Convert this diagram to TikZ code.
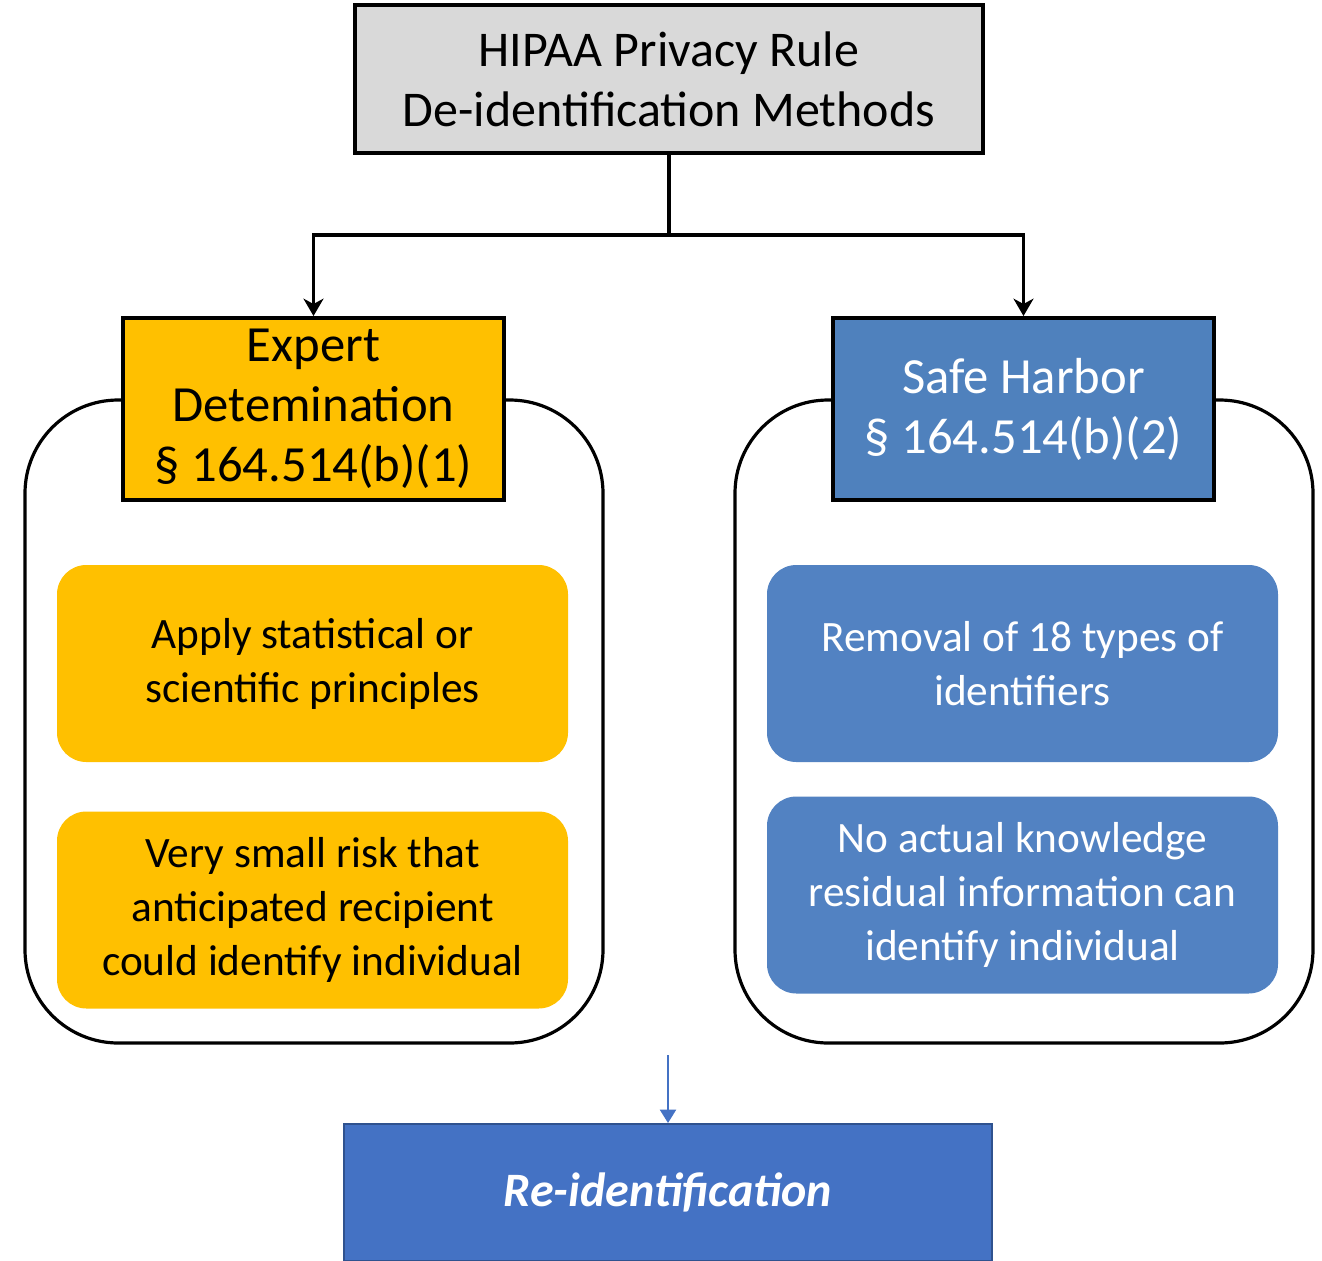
\documentclass[tikz,border=0pt]{standalone}
\usepackage{fontspec}
\setmainfont{Carlito}
\usetikzlibrary{arrows.meta,positioning}
\definecolor{ink}{HTML}{000000}
\definecolor{headgray}{HTML}{D9D9D9}
\definecolor{gold}{HTML}{FFC000}
\definecolor{steel}{HTML}{4F81BD}
\definecolor{steelfill}{HTML}{5282C2}
\definecolor{royal}{HTML}{4472C4}
\definecolor{royaldark}{HTML}{2F528F}
\tikzset{
  box/.style={draw=ink, line width=3pt, align=center, inner sep=0pt, font=\fontsize{38}{45}\selectfont},
  graybox/.style={box, fill=headgray, minimum width=471pt, minimum height=111pt, font=\fontsize{37.5}{45}\selectfont},
  goldbox/.style={box, fill=gold, minimum width=285.75pt, minimum height=136.5pt},
  bluebox/.style={box, fill=steel, text=white, minimum width=285.75pt, minimum height=136.5pt},
  frame/.style={draw=ink, line width=2.4pt, rounded corners=70pt, minimum width=433.5pt, minimum height=482.25pt, inner sep=0pt},
  goldpill/.style={fill=gold, rounded corners=22pt, minimum width=383.25pt, minimum height=147.75pt, align=center, inner sep=0pt, font=\fontsize{32.5}{40.5}\selectfont},
  bluepill/.style={goldpill, fill=steelfill, text=white},
  reidbox/.style={draw=royaldark, line width=1.5pt, fill=royal, text=white, minimum width=486pt, minimum height=102.75pt, font=\fontsize{36}{40}\selectfont\bfseries\itshape},
  arrow/.style={-{Stealth[length=13pt,width=15pt,inset=4pt]}, line width=2.8pt, draw=ink},
  bluearrow/.style={-{Triangle[length=10pt,width=12pt]}, line width=1.6pt, draw=royal}
}
\begin{document}
\begin{tikzpicture}[x=0.75pt, y=-0.75pt]
\useasboundingbox (0,0) rectangle (1322,1261);
% containers behind the two method headers
\node[frame] (leftframe) at (314,721.5) {};
\node[frame] (rightframe) at (1024,721.5) {};
\node[graybox] (ttl) at (669,79) {HIPAA Privacy Rule\\De-identification Methods};
\node[goldbox] (expert) at (313.5,409) {Expert\\Detemination\\§ 164.514(b)(1)};
\node[bluebox] (safe) at (1023.5,409) {Safe Harbor\\§ 164.514(b)(2)};
\coordinate (fork) at (669,235);
\draw[line width=2.8pt, draw=ink] (ttl.south) -- (fork);
\draw[arrow] (fork) -| (expert.north);
\draw[arrow] (fork) -| (safe.north);
% method criteria
\node[goldpill] (stat) at (312.5,663.5) {Apply statistical or\\scientific principles};
\node[goldpill] (risk) at (312.5,910) {Very small risk that\\anticipated recipient\\could identify individual};
\node[bluepill] (remove) at (1022.5,663.5) {Removal of 18 types of\\identifiers};
\node[bluepill] (know) at (1022.5,895) {No actual knowledge\\residual information can\\identify individual};
% re-identification
\node[reidbox] (reid) at (668,1192.5) {Re-identification};
\coordinate (reidsrc) at (668,1055);
\draw[bluearrow] (reidsrc) -- (reid.north);
\end{tikzpicture}
\end{document}
